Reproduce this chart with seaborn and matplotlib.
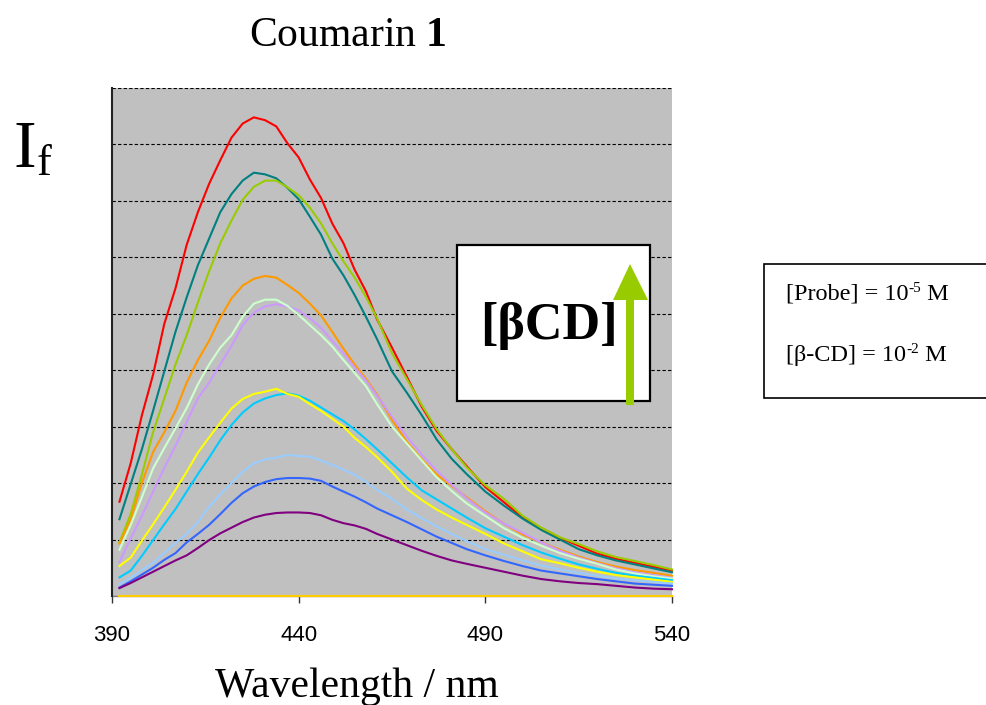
import matplotlib
matplotlib.use("Agg")
import matplotlib.pyplot as plt
from matplotlib.patches import Rectangle, Polygon
import numpy as np
import pandas as pd
import seaborn as sns

# Emission wavelengths (nm)
wavelength = [392, 395, 398, 401, 404, 407, 410, 413, 416, 419, 422, 425, 428, 431,
              434, 437, 440, 443, 446, 449, 452, 455, 458, 461, 465, 469, 473, 477,
              481, 485, 490, 495, 500, 505, 510, 515, 520, 525, 530, 535, 540]

# Fluorescence intensity (arbitrary units), one spectrum per beta-CD addition
if_red = [1.67, 2.35, 3.2, 3.92, 4.82, 5.45, 6.22, 6.8, 7.3, 7.72, 8.12, 8.37, 8.48, 8.43,
          8.32, 8.02, 7.77, 7.38, 7.05, 6.6, 6.25, 5.78, 5.4, 4.9, 4.4, 3.88, 3.35, 2.92,
          2.6, 2.3, 1.93, 1.66, 1.39, 1.2, 1.03, 0.89, 0.75, 0.66, 0.59, 0.52, 0.45]
if_teal = [1.36, 1.98, 2.6, 3.28, 3.98, 4.68, 5.29, 5.86, 6.33, 6.8, 7.12, 7.36, 7.5, 7.47,
           7.4, 7.23, 7.03, 6.72, 6.4, 5.98, 5.68, 5.33, 4.95, 4.55, 3.98, 3.6, 3.2, 2.77,
           2.43, 2.16, 1.85, 1.6, 1.37, 1.17, 1.0, 0.83, 0.72, 0.63, 0.56, 0.49, 0.42]
if_lime = [0.95, 1.45, 2.15, 2.9, 3.5, 4.1, 4.62, 5.2, 5.75, 6.25, 6.65, 7.02, 7.25, 7.36,
           7.36, 7.24, 7.1, 6.88, 6.6, 6.25, 5.93, 5.64, 5.3, 4.92, 4.3, 3.84, 3.38, 2.95,
           2.6, 2.28, 1.96, 1.72, 1.42, 1.21, 1.04, 0.92, 0.79, 0.69, 0.62, 0.55, 0.47]
if_orange = [0.93, 1.35, 2.0, 2.55, 2.9, 3.28, 3.78, 4.18, 4.52, 4.93, 5.27, 5.5, 5.62, 5.67,
             5.64, 5.51, 5.37, 5.18, 4.97, 4.68, 4.38, 4.1, 3.85, 3.57, 3.12, 2.73, 2.42, 2.15,
             1.95, 1.75, 1.5, 1.28, 1.09, 0.95, 0.82, 0.7, 0.6, 0.52, 0.46, 0.41, 0.36]
if_mint = [0.82, 1.26, 1.75, 2.26, 2.62, 2.97, 3.33, 3.75, 4.1, 4.4, 4.62, 4.95, 5.18, 5.25,
           5.25, 5.14, 4.98, 4.8, 4.62, 4.42, 4.18, 3.95, 3.72, 3.4, 3.0, 2.7, 2.4, 2.1,
           1.86, 1.64, 1.42, 1.2, 1.03, 0.89, 0.76, 0.66, 0.57, 0.47, 0.4, 0.35, 0.31]
if_lavender = [0.6, 1.02, 1.42, 1.85, 2.27, 2.66, 3.08, 3.5, 3.78, 4.1, 4.43, 4.8, 5.02, 5.13,
               5.17, 5.13, 5.06, 4.92, 4.75, 4.52, 4.3, 4.05, 3.82, 3.55, 3.18, 2.82, 2.5, 2.22,
               1.97, 1.73, 1.48, 1.28, 1.12, 0.95, 0.8, 0.68, 0.58, 0.49, 0.42, 0.37, 0.32]
if_yellow = [0.53, 0.68, 0.98, 1.27, 1.57, 1.88, 2.2, 2.54, 2.81, 3.07, 3.32, 3.49, 3.58, 3.62,
             3.67, 3.58, 3.53, 3.4, 3.28, 3.14, 3.0, 2.8, 2.64, 2.46, 2.2, 1.9, 1.7, 1.53,
             1.39, 1.26, 1.1, 0.93, 0.79, 0.65, 0.58, 0.5, 0.43, 0.37, 0.33, 0.29, 0.25]
if_sky = [0.33, 0.45, 0.71, 0.99, 1.27, 1.54, 1.85, 2.16, 2.45, 2.76, 3.03, 3.25, 3.41, 3.5,
          3.56, 3.59, 3.55, 3.46, 3.34, 3.22, 3.1, 2.95, 2.78, 2.6, 2.35, 2.1, 1.87, 1.71,
          1.55, 1.39, 1.2, 1.05, 0.9, 0.77, 0.66, 0.56, 0.48, 0.41, 0.36, 0.32, 0.28]
if_paleblue = [0.21, 0.32, 0.46, 0.59, 0.76, 0.94, 1.1, 1.31, 1.58, 1.8, 2.0, 2.2, 2.35, 2.42,
               2.45, 2.5, 2.48, 2.47, 2.4, 2.32, 2.24, 2.15, 2.02, 1.88, 1.72, 1.53, 1.38, 1.23,
               1.1, 0.97, 0.83, 0.73, 0.63, 0.54, 0.47, 0.41, 0.36, 0.31, 0.28, 0.25, 0.22]
if_blue = [0.15, 0.26, 0.38, 0.5, 0.64, 0.76, 0.95, 1.1, 1.26, 1.45, 1.65, 1.82, 1.94, 2.02,
           2.07, 2.09, 2.09, 2.08, 2.04, 1.94, 1.85, 1.76, 1.66, 1.55, 1.43, 1.31, 1.18, 1.05,
           0.94, 0.83, 0.72, 0.62, 0.53, 0.45, 0.4, 0.35, 0.3, 0.26, 0.22, 0.2, 0.18]
if_purple = [0.14, 0.23, 0.33, 0.43, 0.53, 0.63, 0.72, 0.85, 0.99, 1.11, 1.21, 1.31, 1.39, 1.44,
             1.47, 1.48, 1.48, 1.47, 1.43, 1.35, 1.29, 1.25, 1.19, 1.1, 1.0, 0.9, 0.8, 0.71,
             0.63, 0.57, 0.5, 0.43, 0.36, 0.3, 0.26, 0.23, 0.21, 0.18, 0.15, 0.13, 0.12]
if_blank = [0.0] * len(wavelength)

series = {
    "red": if_red, "teal": if_teal, "lime": if_lime, "orange": if_orange,
    "lavender": if_lavender, "mint": if_mint, "sky": if_sky, "yellow": if_yellow,
    "paleblue": if_paleblue, "blue": if_blue, "purple": if_purple, "blank": if_blank,
}
palette = {
    "red": "#FF0000", "teal": "#008080", "lime": "#99CC00", "orange": "#FF9900",
    "lavender": "#CC99FF", "mint": "#CCFFCC", "sky": "#00CCFF", "yellow": "#FFFF00",
    "paleblue": "#99CCFF", "blue": "#3366FF", "purple": "#800080", "blank": "#FFCC00",
}

x_ticks = [390, 440, 490, 540]

df = pd.concat(
    [pd.DataFrame({"wavelength": wavelength, "intensity": v, "spectrum": k})
     for k, v in series.items()],
    ignore_index=True,
)

plt.rcParams["mathtext.fontset"] = "custom"
plt.rcParams["mathtext.rm"] = "Liberation Serif"
plt.rcParams["mathtext.bf"] = "Liberation Serif:bold"

W, H = 986, 705
fig = plt.figure(figsize=(W / 100, H / 100), dpi=100)
fig.patch.set_facecolor("white")


def fx(px):
    return px / W


def fy(py):
    return 1 - py / H


ax = fig.add_axes([fx(112), fy(596), fx(672) - fx(112), fy(88) - fy(596)])
ax.set_facecolor("#C0C0C0")

sns.lineplot(data=df, x="wavelength", y="intensity", hue="spectrum",
             palette=palette, hue_order=list(series.keys()), legend=False,
             estimator=None, sort=False, linewidth=1.5, ax=ax)
for line in ax.lines:
    line.set_zorder(3)
    line.set_clip_on(False)

ax.set_xlim(390, 540)
ax.set_ylim(0, 9)
ax.set_xticks(x_ticks)
ax.set_xticklabels([str(t) for t in x_ticks], fontfamily="Liberation Sans", fontsize=16)
ax.set_yticks(np.arange(0, 10, 1))
ax.set_yticklabels([])
ax.tick_params(axis="y", length=0)
ax.tick_params(axis="x", direction="out", length=5, width=1, color="#333333", pad=16)
ax.grid(axis="y", color="black", linestyle=(0, (3, 2)), linewidth=0.8)
ax.grid(axis="x", visible=False)
ax.set_axisbelow(True)
ax.set_xlabel("")
ax.set_ylabel("")
for side in ("top", "right"):
    ax.spines[side].set_visible(False)
ax.spines["left"].set_color("#222222")
ax.spines["left"].set_linewidth(1.5)
ax.spines["bottom"].set_color("#808080")
ax.spines["bottom"].set_linewidth(1.0)
ax.spines["bottom"].set_zorder(2)

# Title and axis labels
fig.text(fx(348), fy(46), r"Coumarin $\mathbf{1}$", ha="center", va="baseline",
         fontfamily="Liberation Serif", fontsize=30)
fig.text(fx(357), fy(697), "Wavelength / nm", ha="center", va="baseline",
         fontfamily="Liberation Serif", fontsize=30)
fig.text(fx(14), fy(167), "I", ha="left", va="baseline",
         fontfamily="Liberation Serif", fontsize=49)
fig.text(fx(37), fy(175), "f", ha="left", va="baseline",
         fontfamily="Liberation Serif", fontsize=32)

# Inset box with the titration label and arrow
ax.add_patch(Rectangle((fx(457), fy(401)), fx(650) - fx(457), fy(245) - fy(401),
                       transform=fig.transFigure, facecolor="white", edgecolor="black",
                       linewidth=1.6, zorder=5, clip_on=False))
fig.text(fx(549), fy(339), "[βCD]", ha="center", va="baseline",
         fontfamily="Liberation Serif", fontweight="bold", fontsize=37.5, zorder=6)
arrow_px = [(626, 405), (634, 405), (634, 300), (648, 300), (630, 264),
            (613, 300), (626, 300)]
ax.add_patch(Polygon([(fx(a), fy(b)) for a, b in arrow_px], closed=True,
                     transform=fig.transFigure, facecolor="#99CC00",
                     edgecolor="none", zorder=7, clip_on=False))

# Concentration box
fig.patches.append(Rectangle((fx(764), fy(398)), fx(992) - fx(764), fy(264) - fy(398),
                             transform=fig.transFigure, facecolor="white",
                             edgecolor="black", linewidth=1.2))

renderer = fig.canvas.get_renderer()


def chained(x_px, base_px, pieces):
    """Write text pieces one after another; pieces are (text, size, rise_px)."""
    x = x_px
    for txt, size, rise in pieces:
        t = fig.text(fx(x), fy(base_px - rise), txt, ha="left", va="baseline",
                     fontfamily="Liberation Serif", fontsize=size)
        bb = t.get_window_extent(renderer=renderer)
        x += bb.width


chained(786, 300, [("[Probe] = 10", 17.5, 0), ("-5", 11, 8), (" M", 17.5, 0)])
chained(786, 361, [("[β-CD] = 10", 17.5, 0), ("-2", 11, 8), (" M", 17.5, 0)])

fig.savefig("out.png", dpi=100)
